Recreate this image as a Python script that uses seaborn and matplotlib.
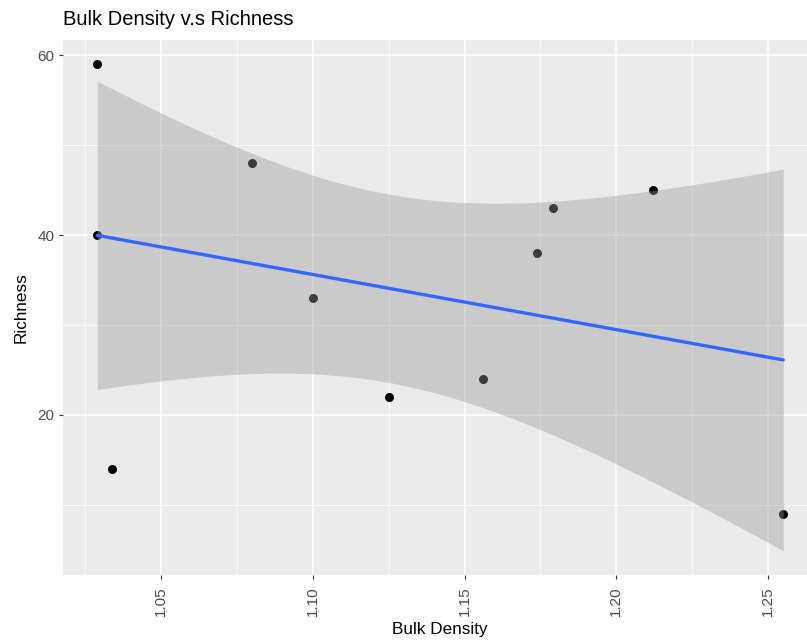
import numpy as np
import pandas as pd
import matplotlib
matplotlib.use("Agg")
import matplotlib.pyplot as plt
import seaborn as sns
from matplotlib.ticker import MultipleLocator

# ---- data ----
bulk_density = [1.029, 1.029, 1.034, 1.080, 1.100, 1.125, 1.156, 1.174, 1.179, 1.212, 1.255]
richness     = [59, 40, 14, 48, 33, 22, 24, 38, 43, 45, 9]
x_ticks = [1.05, 1.10, 1.15, 1.20, 1.25]
x_tick_labels = ["1.05", "1.10", "1.15", "1.20", "1.25"]
y_ticks = [20, 40, 60]
y_tick_labels = ["20", "40", "60"]
title = "Bulk Density v.s Richness"
xlabel = "Bulk Density"
ylabel = "Richness"

df = pd.DataFrame({"Bulk Density": bulk_density, "Richness": richness})

sns.set_theme(style="darkgrid")
plt.rcParams["font.family"] = ["Liberation Sans", "DejaVu Sans"]

fig = plt.figure(figsize=(8.07, 6.40), dpi=100)
W, H = 807, 640
left_px, right_px, top_px, bottom_px = 63, 817.6, 40, 575
ax = fig.add_axes([left_px / W, 1 - bottom_px / H,
                   (right_px - left_px) / W, (bottom_px - top_px) / H])
ax.set_facecolor("#EBEBEB")

# points (below the ribbon, like ggplot layering)
sns.scatterplot(data=df, x="Bulk Density", y="Richness", ax=ax, color="black",
                s=42, linewidth=0, zorder=2, legend=False)

# linear fit and analytic 95% confidence band (as in geom_smooth(method="lm"))
x = np.asarray(bulk_density, float)
y = np.asarray(richness, float)
n = len(x)
xm, ym = x.mean(), y.mean()
sxx = ((x - xm) ** 2).sum()
slope = ((x - xm) * (y - ym)).sum() / sxx
intercept = ym - slope * xm
resid = y - (intercept + slope * x)
s = np.sqrt((resid ** 2).sum() / (n - 2))
t975 = 2.2622  # t quantile, df = 9
xg = np.linspace(x.min(), x.max(), 200)
yg = intercept + slope * xg
se = s * np.sqrt(1 / n + (xg - xm) ** 2 / sxx)
ax.fill_between(xg, yg - t975 * se, yg + t975 * se, color="#999999", alpha=0.4,
                linewidth=0, zorder=3)
sns.regplot(data=df, x="Bulk Density", y="Richness", ax=ax, scatter=False, ci=None,
            line_kws=dict(color="#3366FF", linewidth=2.4, zorder=4))

# limits, ticks, grid
ax.set_xlim(1.0177, 1.2663)
ax.set_ylim(2.22, 61.67)
ax.set_xticks(x_ticks)
ax.set_xticklabels(x_tick_labels, rotation=90)
ax.set_yticks(y_ticks)
ax.set_yticklabels(y_tick_labels)
ax.xaxis.set_minor_locator(MultipleLocator(0.025))
ax.yaxis.set_minor_locator(MultipleLocator(10))
ax.grid(which="major", color="white", linewidth=1.1)
ax.grid(which="minor", color="white", linewidth=0.55)
ax.set_axisbelow(True)
for sp in ax.spines.values():
    sp.set_visible(False)
ax.tick_params(axis="both", which="major", bottom=True, left=True, length=3.2,
               width=0.8, color="#333333", labelcolor="#4D4D4D", labelsize=11, pad=3.0)
ax.tick_params(axis="x", which="major", pad=5.0)
ax.tick_params(axis="both", which="minor", length=0)

# labels
ax.set_xlabel(xlabel, fontsize=12.3, color="black")
ax.xaxis.set_label_coords(0.5, (bottom_px - 634) / (bottom_px - top_px))
ax.xaxis.label.set_va("baseline")
ax.set_ylabel(ylabel, fontsize=12.3, color="black")
ax.yaxis.set_label_coords((21 - left_px) / (right_px - left_px), 0.5)
ax.yaxis.label.set_va("center")

fig.text(left_px / W, 1 - 25 / H, title, fontsize=14.5, color="black",
         ha="left", va="baseline")

fig.savefig("out.png", dpi=100, facecolor="white")
